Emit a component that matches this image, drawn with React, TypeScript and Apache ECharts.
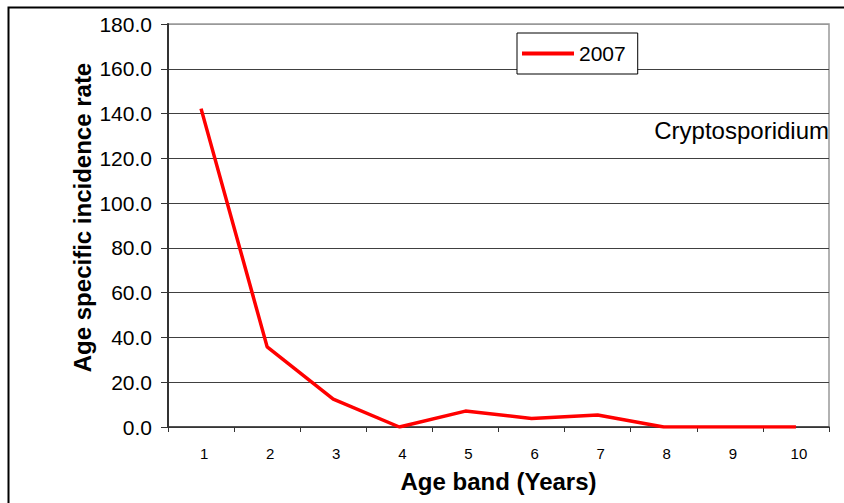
import React, { useEffect, useRef } from "react";
import * as echarts from "echarts";

const categories = ["1", "2", "3", "4", "5", "6", "7", "8", "9", "10"];
const values2007 = [142.2, 35.8, 12.5, 0, 7.1, 3.8, 5.4, 0, 0, 0];
const seriesName = "2007";
const yTitle = "Age specific incidence rate";
const xTitle = "Age band (Years)";
const annotation = "Cryptosporidium";

const FONT = "'Liberation Sans', Arial, sans-serif";

export default function App() {
  const ref = useRef<HTMLDivElement>(null);
  useEffect(() => {
    if (!ref.current) return;
    const chart = echarts.init(ref.current, null, { renderer: "svg" });
    const gridColors = ["#404040", "#404040", "#404040", "#404040", "#404040", "#404040", "#404040", "#404040", "#404040", "#999999"];
    chart.setOption({
      animation: false,
      backgroundColor: "#ffffff",
      textStyle: { fontFamily: FONT },
      grid: {
        left: 168, top: 24, right: 15, bottom: 76,
        show: true, borderColor: "#999999", borderWidth: 1.5,
        containLabel: false, outerBoundsMode: "none",
      },
      legend: {
        show: true,
        data: [seriesName],
        left: 517,
        top: 33,
        orient: "horizontal",
        icon: "rect",
        backgroundColor: "#ffffff",
        borderColor: "#000000",
        borderWidth: 1,
        borderRadius: 0,
        padding: [10, 12, 10, 5],
        itemWidth: 52,
        itemHeight: 4,
        itemGap: 6,
        textStyle: { fontSize: 21, color: "#000", fontFamily: FONT },
      },
      xAxis: {
        type: "category",
        data: categories,
        boundaryGap: true,
        axisLine: { show: true, lineStyle: { color: "#333333", width: 1.5 } },
        axisTick: { show: true, alignWithLabel: false, length: 5, lineStyle: { color: "#333333" } },
        axisLabel: { fontSize: 15, color: "#000", margin: 19, fontFamily: FONT, padding: [0, 0, 0, 6] },
        name: xTitle,
        nameLocation: "middle",
        nameGap: 42,
        nameMoveOverlap: false,
        nameTextStyle: { fontSize: 24, fontWeight: "bold", color: "#000", fontFamily: FONT },
        splitLine: { show: false },
      },
      yAxis: {
        type: "value",
        min: 0,
        max: 180,
        interval: 20,
        axisLine: { show: true, lineStyle: { color: "#333333", width: 2 } },
        axisTick: { show: true, length: 7, lineStyle: { color: "#333333" } },
        axisLabel: { fontSize: 21, color: "#000", margin: 16, fontFamily: FONT, formatter: (v: number) => v.toFixed(1) },
        name: yTitle,
        nameLocation: "middle",
        nameGap: 74,
        nameMoveOverlap: false,
        nameTextStyle: { fontSize: 24, fontWeight: "bold", color: "#000", fontFamily: FONT, padding: [0, 0, 0, 16] },
        splitLine: { show: true, lineStyle: { color: gridColors, width: 1 } },
      },
      series: [
        {
          name: seriesName,
          type: "line",
          data: values2007,
          symbol: "none",
          lineStyle: { color: "#ff0000", width: 3.5 },
          itemStyle: { color: "#ff0000" },
        },
      ],
      graphic: [
        {
          type: "rect",
          left: 6,
          top: 5,
          shape: { width: 900, height: 600 },
          style: { fill: "none", stroke: "#000", lineWidth: 2 },
          silent: true,
          z: -1,
        },
        {
          type: "text",
          x: 829,
          y: 130,
          style: { text: annotation, fontSize: 24, fill: "#000", textAlign: "right", textVerticalAlign: "middle", fontFamily: FONT },
        },
      ],
    });
    return () => chart.dispose();
  }, []);
  return <div ref={ref} style={{ width: 844, height: 503, position: "absolute", left: 0, top: 0 }} />;
}
